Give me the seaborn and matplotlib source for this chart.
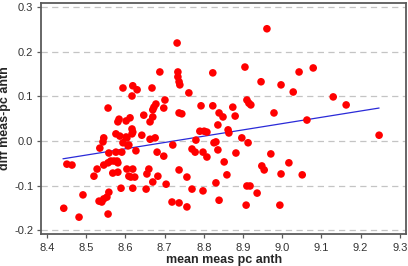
import numpy as np
import pandas as pd
import matplotlib
matplotlib.use("Agg")
import matplotlib.pyplot as plt
import seaborn as sns

# mean of the two measurements (x) and their difference (y)
mean_vals = [
    8.443, 8.451, 8.464, 8.482, 8.492, 8.520, 8.528, 8.533, 8.540, 8.545,
    8.553, 8.558, 8.589, 8.556, 8.545, 8.556, 8.563, 8.571, 8.579, 8.581,
    8.568, 8.581, 8.604, 8.609, 8.535, 8.543, 8.558, 8.576, 8.591, 8.594,
    8.607, 8.545, 8.576, 8.586, 8.602, 8.594, 8.556, 8.584, 8.581, 8.602,
    8.612, 8.619, 8.630, 8.617, 8.617, 8.619, 8.617, 8.604, 8.609, 8.627,
    8.619, 8.614, 8.624, 8.619, 8.647, 8.670, 8.663, 8.642, 8.663, 8.676,
    8.681, 8.698, 8.721, 8.660, 8.655, 8.683, 8.653, 8.670, 8.704, 8.719,
    8.737, 8.757, 8.737, 8.757, 8.770, 8.798, 8.831, 8.839, 8.780, 8.770,
    8.778, 8.798, 8.808, 8.790, 8.801, 8.808, 8.826, 8.732, 8.688, 8.734,
    8.734, 8.737, 8.739, 8.762, 8.823, 8.668, 8.701, 8.678, 8.673, 8.670,
    8.698, 8.737, 8.744, 8.793, 8.823, 8.839, 8.849, 8.874, 8.880, 8.836,
    8.862, 8.864, 8.831, 8.836, 8.897, 8.913, 8.882, 8.852, 8.859, 8.910,
    8.918, 8.936, 8.908, 8.961, 8.905, 8.946, 8.997, 9.028, 9.043, 9.079,
    8.910, 8.915, 8.920, 8.979, 9.063, 9.130, 9.163, 9.247, 8.971, 8.948,
    8.954, 9.017, 8.997, 9.051, 8.994,
]
diff_vals = [
    -0.151, -0.052, -0.054, -0.171, -0.121, -0.079, -0.063, -0.135, -0.137, -0.130,
    -0.126, -0.115, -0.106, -0.164, -0.054, -0.049, -0.045, -0.045, -0.045, -0.049,
    -0.072, -0.070, -0.063, -0.079, -0.016, -0.002, -0.027, -0.025, -0.025, -0.004,
    -0.011, 0.007, 0.016, 0.011, 0.009, 0.119, 0.074, 0.049, 0.043, 0.045,
    0.052, 0.124, 0.115, 0.101, 0.027, 0.020, 0.016, 0.007, -0.009, -0.022,
    -0.063, -0.081, -0.081, -0.106, 0.058, 0.054, 0.043, 0.013, 0.004, 0.007,
    -0.025, -0.034, -0.009, -0.063, -0.074, -0.079, -0.108, -0.092, -0.097, -0.137,
    -0.139, -0.148, -0.065, -0.081, -0.108, -0.112, -0.094, -0.133, 0.002, -0.018,
    -0.025, -0.025, -0.036, 0.022, 0.022, 0.020, -0.004, 0.220, 0.155, 0.155,
    0.144, 0.133, 0.126, 0.108, 0.153, 0.119, 0.092, 0.083, 0.076, 0.070,
    0.074, 0.063, 0.061, 0.079, 0.079, 0.063, 0.054, 0.076, 0.056, 0.036,
    0.025, 0.018, -0.002, -0.020, 0.007, -0.004, -0.027, -0.047, -0.076, -0.101,
    -0.101, -0.117, -0.144, 0.252, 0.166, 0.133, 0.126, 0.110, 0.155, 0.164,
    0.092, 0.085, 0.081, 0.063, 0.047, 0.099, 0.081, 0.013, -0.029, -0.056,
    -0.065, -0.049, -0.074, -0.076, -0.144,
]

# fitted regression line end points
fit_x = [8.441, 9.247]
fit_y = [-0.040, 0.074]

x_ticks = [8.4, 8.5, 8.6, 8.7, 8.8, 8.9, 9.0, 9.1, 9.2, 9.3]
y_ticks = [-0.2, -0.1, 0.0, 0.1, 0.2, 0.3]

df = pd.DataFrame({"mean": mean_vals, "diff": diff_vals})
fit = pd.DataFrame({"mean": fit_x, "diff": fit_y})

sns.set_theme(style="ticks")
plt.rcParams["font.family"] = ["Liberation Sans", "DejaVu Sans"]

fig = plt.figure(figsize=(4.08, 2.66), dpi=100)
ax = fig.add_axes([0.1005, 0.12, 0.895, 0.869])

for yt in y_ticks:
    ax.axhline(yt, color="#c4c4c4", lw=0.9, ls=(0, (5, 3.5)), zorder=0)

sns.scatterplot(data=df, x="mean", y="diff", color="#ff0000", s=30,
                edgecolor="none", linewidth=0, ax=ax, zorder=3)
sns.lineplot(data=fit, x="mean", y="diff", color="#2a2ad8", lw=0.9, ax=ax, zorder=2)

ax.set_xlim(8.385, 9.316)
ax.set_ylim(-0.209, 0.310)
ax.set_xticks(x_ticks)
ax.set_yticks(y_ticks)
ax.set_xticklabels([f"{t:.1f}" for t in x_ticks])
ax.set_yticklabels([f"{t:.1f}" for t in y_ticks])

for sp in ax.spines.values():
    sp.set_visible(True)
    sp.set_color("#5a5a5a")
    sp.set_linewidth(1.3)

ax.tick_params(axis="both", length=3, width=0.9, color="#5a5a5a",
               labelsize=8, labelcolor="#333333")
ax.tick_params(axis="x", pad=3.5)
ax.tick_params(axis="y", pad=2.5)

ax.set_xlabel("mean meas pc anth", fontsize=9, fontweight="bold", labelpad=1)
ax.set_ylabel("diff meas-pc anth", fontsize=9, fontweight="bold", labelpad=2)

fig.savefig("out.png", dpi=100)
